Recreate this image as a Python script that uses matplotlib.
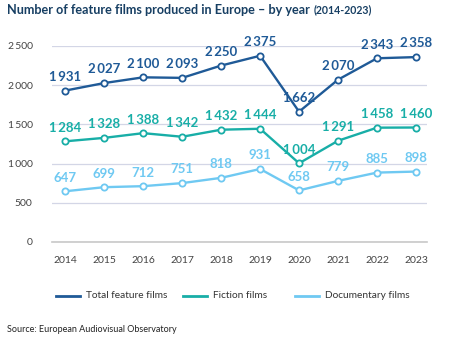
import matplotlib
matplotlib.use("Agg")
import matplotlib.pyplot as plt
from matplotlib.lines import Line2D

plt.rcParams['font.family'] = ['Lato', 'DejaVu Sans']

years = [2014, 2015, 2016, 2017, 2018, 2019, 2020, 2021, 2022, 2023]
total = [1931, 2027, 2100, 2093, 2250, 2375, 1662, 2070, 2343, 2358]
fiction = [1284, 1328, 1388, 1342, 1432, 1444, 1004, 1291, 1458, 1460]
documentary = [647, 699, 712, 751, 818, 931, 658, 779, 885, 898]

series = [
    ("Total feature films", total, "#1f5a97"),
    ("Fiction films", fiction, "#18aea7"),
    ("Documentary films", documentary, "#6fc9f2"),
]


def fmt(v):
    s = f"{v:,}"
    return s.replace(",", "\u2009")


W, H = 450, 343
fig = plt.figure(figsize=(4.5, 3.43), dpi=100)
ax = fig.add_axes([0.1156, 0.2945, 0.833, 0.5715])

for name, vals, col in series:
    ax.plot(years, vals, color=col, lw=1.7, marker="o", ms=4.5,
            mfc="white", mec=col, mew=1.3, zorder=3, clip_on=False)
    for x, v in zip(years, vals):
        ax.annotate(fmt(v), (x, v), xytext=(0, 5.5), textcoords="offset points",
                    ha="center", va="bottom", color=col, fontsize=9.5,
                    fontweight="bold", zorder=4)

ax.set_xlim(2014 - 0.34, 2023 + 0.28)
ax.set_ylim(0, 2500)
ax.set_yticks([0, 500, 1000, 1500, 2000, 2500])
ax.set_yticklabels([fmt(t) for t in [0, 500, 1000, 1500, 2000, 2500]])
ax.set_xticks(years)
ax.grid(axis="y", color="#d3d6e6", lw=0.9)
ax.set_axisbelow(True)
for s in ["top", "right", "left"]:
    ax.spines[s].set_visible(False)
ax.spines["bottom"].set_color("#c8c8c8")
ax.spines["bottom"].set_linewidth(1.2)
ax.tick_params(axis="both", length=0, labelsize=7.5, labelcolor="#444444")
ax.tick_params(axis="y", pad=14)
ax.tick_params(axis="x", pad=10)

# legend drawn by hand so the items sit where the original has them
leg_y = 1 - 296 / H
for (name, _, col), x0 in zip(series, [56, 183, 295]):
    fig.add_artist(Line2D([x0 / W, (x0 + 24) / W], [leg_y, leg_y], color=col, lw=2))
    fig.text((x0 + 30) / W, leg_y, name, fontsize=7.3, color="#333333",
             va="center", ha="left")

t1 = fig.text(7 / W, 1 - 10 / H, "Number of feature films produced in Europe \u2013 by year",
              fontsize=9.1, fontweight="bold", color="#173f63", va="center", ha="left")
fig.canvas.draw()
bb = t1.get_window_extent()
fig.text((bb.x1 + 4) / W, 1 - 10 / H, "(2014-2023)", fontsize=7.6,
         fontweight="bold", color="#173f63", va="center", ha="left")

fig.text(7 / W, 1 - 330 / H, "Source: European Audiovisual Observatory",
         fontsize=6.5, color="#222222", va="center", ha="left")

fig.savefig("out.png", dpi=100)
